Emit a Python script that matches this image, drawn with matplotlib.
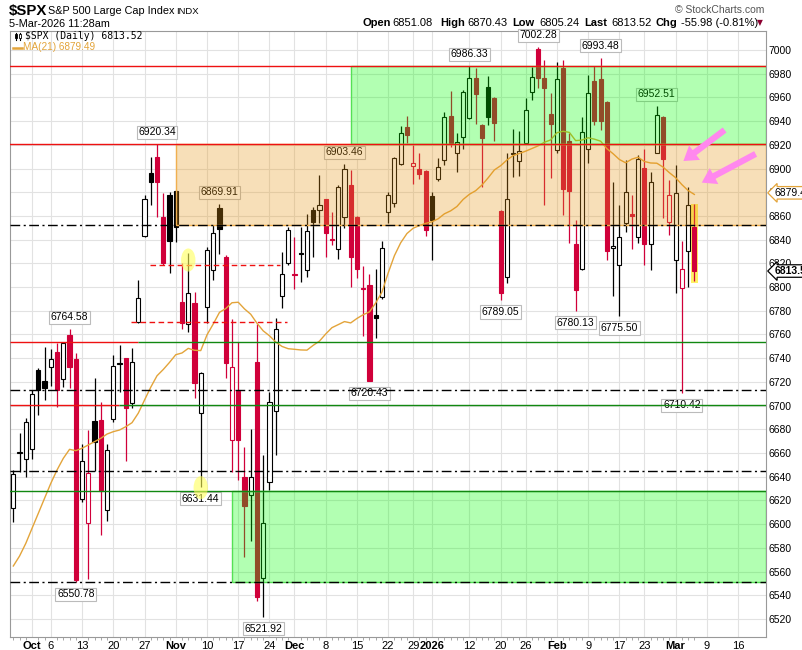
import numpy as np
import pandas as pd
import matplotlib
matplotlib.use("Agg")
import matplotlib.pyplot as plt
from matplotlib.patches import Ellipse, Rectangle, FancyArrowPatch

# trading calendar (market holidays removed)
holidays = ["2025-11-27", "2025-12-25", "2026-01-01", "2026-01-19", "2026-02-16"]
all_days = pd.bdate_range("2025-09-26", "2026-03-31")
all_days = all_days[~all_days.isin(pd.to_datetime(holidays))]
n_bars = 110
dates = all_days[:n_bars]

# daily OHLC
opens = [6613.3, 6659.6, 6654.7, 6663.1, 6730.0, 6720.8, 6732.3, 6745.2, 6722.2, 6759.6,
         6739.3, 6620.9, 6600.7, 6686.7, 6687.9, 6611.9, 6688.4, 6735.6, 6739.9, 6701.9,
         6770.3, 6843.4, 6896.5, 6910.0, 6858.8, 6877.7, 6881.0, 6787.1, 6768.9, 6786.3,
         6694.1, 6783.5, 6814.4, 6867.0, 6825.6, 6671.0, 6712.3, 6640.0, 6624.6, 6736.5,
         6554.3, 6635.3, 6695.5, 6792.5, 6820.6, 6810.7, 6829.0, 6814.4, 6865.0, 6865.0,
         6874.0, 6840.3, 6831.8, 6859.4, 6886.1, 6859.4, 6799.5, 6801.7, 6776.4, 6791.3,
         6863.6, 6870.7, 6903.8, 6935.3, 6902.1, 6899.3, 6898.0, 6877.1, 6890.9, 6907.2,
         6944.3, 6912.8, 6926.3, 6942.4, 6976.1, 6936.7, 6968.5, 6959.2, 6864.2, 6808.8,
         6913.5, 6906.4, 6921.8, 6964.3, 7000.6, 6976.7, 6945.7, 6915.6, 6984.5, 6923.2,
         6836.1, 6815.0, 6916.5, 6973.8, 6975.3, 6956.4, 6832.7, 6818.6, 6853.8, 6861.4,
         6841.9, 6900.2, 6836.3, 6913.4, 6943.2, 6855.2, 6822.8, 6798.9, 6830.7, 6851.08]
highs = [6645.7, 6676.6, 6689.8, 6713.2, 6731.4, 6749.2, 6747.5, 6753.1, 6754.0, 6764.58,
         6744.0, 6667.6, 6679.4, 6723.0, 6703.0, 6668.0, 6742.7, 6751.1, 6740.4, 6748.3,
         6806.0, 6877.7, 6910.0, 6920.34, 6879.0, 6880.0, 6882.0, 6820.0, 6828.5, 6795.6,
         6728.6, 6834.0, 6852.4, 6869.91, 6827.0, 6772.8, 6753.4, 6665.4, 6680.0, 6768.6,
         6658.3, 6711.8, 6773.6, 6829.9, 6851.0, 6842.0, 6851.0, 6861.6, 6867.8, 6894.5,
         6874.6, 6863.6, 6886.0, 6903.46, 6898.8, 6860.0, 6817.8, 6811.0, 6815.0, 6838.9,
         6880.5, 6909.5, 6935.9, 6944.3, 6919.9, 6912.8, 6899.0, 6880.0, 6908.6, 6948.0,
         6965.4, 6930.3, 6966.0, 6986.33, 6984.5, 6937.5, 6978.1, 6960.0, 6865.0, 6912.8,
         6933.1, 6931.7, 6959.2, 6985.9, 7002.28, 6991.6, 6963.4, 6990.2, 6991.6, 6930.3,
         6856.6, 6943.2, 6978.9, 6986.5, 6993.48, 6957.0, 6888.9, 6869.2, 6907.2, 6877.7,
         6911.4, 6916.2, 6897.4, 6952.51, 6944.0, 6890.3, 6903.0, 6838.9, 6884.1, 6870.43]
lows = [6602.1, 6644.3, 6639.5, 6654.7, 6692.1, 6704.7, 6716.5, 6698.5, 6716.0, 6714.6,
        6550.78, 6619.0, 6553.4, 6645.0, 6591.0, 6603.0, 6686.0, 6711.8, 6653.6, 6698.3,
        6770.0, 6842.5, 6869.2, 6858.8, 6818.6, 6812.2, 6838.0, 6764.6, 6762.4, 6706.1,
        6631.44, 6769.4, 6806.0, 6827.9, 6723.0, 6644.3, 6637.3, 6572.6, 6586.0, 6535.0,
        6521.92, 6628.8, 6658.3, 6782.1, 6818.6, 6798.1, 6804.6, 6808.8, 6825.6, 6853.8,
        6825.6, 6835.5, 6823.4, 6850.0, 6800.3, 6807.4, 6758.7, 6720.43, 6756.8, 6790.0,
        6854.3, 6867.3, 6903.0, 6921.3, 6887.0, 6891.2, 6843.0, 6822.9, 6889.8, 6903.0,
        6917.9, 6897.4, 6916.2, 6942.0, 6937.6, 6884.1, 6936.7, 6923.5, 6789.05, 6803.2,
        6892.6, 6893.7, 6921.0, 6957.8, 6967.7, 6869.2, 6891.7, 6912.8, 6860.8, 6837.5,
        6780.13, 6814.0, 6904.4, 6936.7, 6932.5, 6822.8, 6792.8, 6775.50, 6846.8, 6831.8,
        6836.9, 6818.6, 6814.4, 6912.8, 6858.0, 6843.9, 6795.3, 6710.42, 6800.3, 6805.24]
closes = [6642.0, 6660.5, 6686.4, 6709.5, 6713.2, 6714.6, 6739.3, 6713.2, 6752.5, 6732.8,
          6552.5, 6653.0, 6642.9, 6669.6, 6628.2, 6662.3, 6733.4, 6735.0, 6697.7, 6736.5,
          6790.5, 6874.3, 6888.9, 6888.6, 6820.6, 6838.9, 6851.0, 6770.0, 6794.7, 6718.8,
          6727.2, 6831.3, 6845.3, 6849.3, 6735.7, 6732.3, 6671.0, 6615.6, 6640.0, 6538.5,
          6601.3, 6703.3, 6764.4, 6810.7, 6847.9, 6810.2, 6827.6, 6847.6, 6855.2, 6869.0,
          6845.3, 6839.4, 6884.7, 6899.3, 6825.6, 6815.0, 6798.4, 6721.0, 6773.6, 6832.7,
          6877.7, 6908.6, 6930.3, 6928.3, 6905.0, 6895.1, 6848.0, 6856.6, 6901.0, 6943.2,
          6921.3, 6922.0, 6964.9, 6976.1, 6962.6, 6925.5, 6943.2, 6938.7, 6795.3, 6874.0,
          6912.0, 6914.8, 6949.4, 6976.9, 6976.2, 6967.7, 6937.3, 6975.3, 6882.5, 6881.0,
          6797.5, 6930.5, 6963.4, 6940.4, 6940.0, 6830.7, 6834.7, 6841.9, 6879.9, 6860.3,
          6907.8, 6836.3, 6888.4, 6945.2, 6907.8, 6877.7, 6879.6, 6815.0, 6869.5, 6813.52]

# MA(21) for the first bars (history before the window is not shown)
ma_early = [6564.7, 6573.1, 6583.8, 6596.5, 6609.1, 6621.8, 6634.4, 6645.7, 6655.5, 6663.1,
            6662.0, 6664.0, 6666.8, 6669.6, 6672.4, 6676.0, 6678.0, 6679.4, 6682.2, 6685.6]

# annotated extremes: (date, value, side)
extremes = [("2025-10-09", 6764.58, "up"), ("2025-10-10", 6550.78, "down"),
            ("2025-10-29", 6920.34, "up"), ("2025-11-07", 6631.44, "down"),
            ("2025-11-12", 6869.91, "up"), ("2025-11-21", 6521.92, "down"),
            ("2025-12-11", 6903.46, "up"), ("2025-12-17", 6720.43, "down"),
            ("2026-01-12", 6986.33, "up"), ("2026-01-20", 6789.05, "down"),
            ("2026-01-28", 7002.28, "up"), ("2026-02-05", 6780.13, "down"),
            ("2026-02-11", 6993.48, "up"), ("2026-02-17", 6775.50, "down"),
            ("2026-02-25", 6952.51, "up"), ("2026-03-03", 6710.42, "down")]

tick_dates = ["2025-10-01", "2025-10-06", "2025-10-13", "2025-10-20", "2025-10-27",
              "2025-11-03", "2025-11-10", "2025-11-17", "2025-11-24", "2025-12-01",
              "2025-12-08", "2025-12-15", "2025-12-22", "2025-12-29", "2026-01-02",
              "2026-01-12", "2026-01-20", "2026-01-26", "2026-02-02", "2026-02-09",
              "2026-02-17", "2026-02-23", "2026-03-02", "2026-03-09", "2026-03-16"]
tick_labels = ["Oct", "6", "13", "20", "27", "Nov", "10", "17", "24", "Dec", "8", "15",
               "22", "29", "2026", "12", "20", "26", "Feb", "9", "17", "23", "Mar", "9", "16"]
bold_labels = {"Oct", "Nov", "Dec", "2026", "Feb", "Mar"}

# drawn support / resistance levels
red_levels = [6986.33, 6920.34]
dashdot_levels = [6852.0, 6713.0, 6645.0, 6551.0]
green_level = 6628.0
split_levels = [(6754.0, "2025-10-24"), (6700.5, "2025-10-21")]
dashed_levels = [(6818.6, "2025-10-28", "2025-11-25"), (6770.5, "2025-10-23", "2025-11-26")]
orange_zone = ("2025-11-03", 6852.0, 6920.34)
green_zones = [("2025-12-12", 6920.34, 6986.33), ("2025-11-14", 6551.0, 6628.0)]

RED = "#D0003A"
MA_COL = "#E3A43A"
NARROW = ["Liberation Sans Narrow", "Liberation Sans", "DejaVu Sans"]
SANS = ["Liberation Sans", "DejaVu Sans"]


def xpos(d):
    return all_days.get_loc(pd.Timestamp(d))


W, H = 803, 650
fig = plt.figure(figsize=(W / 100, H / 100), dpi=100)
fig.patch.set_facecolor("white")
ax = fig.add_axes([10 / W, 13 / H, 756 / W, 606 / H])
ax.set_xlim(-0.53, 120.47)
ax.set_ylim(6504.8, 7016.0)

o = np.array(opens)
h = np.array(highs)
l = np.array(lows)
c = np.array(closes)
x = np.arange(n_bars)

prev = np.r_[c[0] - 1, c[:-1]]
cols = np.where(c >= prev, "black", RED)
hollow = c >= o
body_lo = np.minimum(o, c)
body_h = np.maximum(np.abs(c - o), 0.8)

ax.vlines(x, l, h, colors=cols, lw=0.9, zorder=2)
ax.bar(x, body_h, bottom=body_lo, width=0.66,
       color=np.where(hollow, "white", cols), edgecolor=cols, linewidth=0.8, zorder=3)

ma = pd.Series(c).rolling(21).mean().to_numpy()
ma[:20] = ma_early
ax.plot(x, ma, color=MA_COL, lw=1.0, zorder=4)

# extreme value labels
for d, v, side in extremes:
    off = 5 if side == "up" else -5
    ax.annotate(f"{v:.2f}", xy=(xpos(d), v), xytext=(0, off), textcoords="offset points",
                ha="center", va="bottom" if side == "up" else "top",
                fontsize=7.5, family=NARROW, zorder=4.2,
                bbox=dict(boxstyle="square,pad=0.15", fc="white", ec="#BBBBBB", lw=0.8))

# zones (translucent, drawn over the bars)
xr = ax.get_xlim()[1]
zd, z0, z1 = orange_zone
ax.add_patch(Rectangle((xpos(zd), z0), xr - xpos(zd), z1 - z0, fc=(0.9, 0.59, 0.08, 0.3),
                       ec="#F0B050", lw=1.0, zorder=5))
for zd, z0, z1 in green_zones:
    ax.add_patch(Rectangle((xpos(zd), z0), xr - xpos(zd), z1 - z0, fc=(0.0, 1.0, 0.0, 0.3),
                           ec="#55E055", lw=1.0, zorder=5))

# level lines
for lv in red_levels:
    ax.axhline(lv, color="#EE1111", lw=1.0, zorder=6)
for lv in dashdot_levels:
    ax.axhline(lv, color="black", lw=1.0, ls=(0, (7, 2.5, 1.5, 2.5)), zorder=6)
ax.axhline(green_level, color="#118811", lw=1.0, zorder=6)
x0 = ax.get_xlim()[0]
for lv, d in split_levels:
    xs = xpos(d) - 0.1
    ax.hlines(lv, x0, xs, color="#EE1111", lw=1.0, zorder=6)
    ax.hlines(lv, xs, xr, color="#118811", lw=1.0, zorder=6)
for lv, d0, d1 in dashed_levels:
    ax.hlines(lv, xpos(d0) - 0.1, xpos(d1) + 0.75, color="#EE1111", lw=1.0,
              ls=(0, (4, 2.5)), zorder=6)

# highlights
for d, v in [("2025-11-05", 6822.8), ("2025-11-07", 6630.8)]:
    ax.add_patch(Ellipse((xpos(d), v), 2.3, 19.5, fc=(1, 1, 0.35, 0.6), ec="none", zorder=7))
last = n_bars - 1
ax.add_patch(Rectangle((last - 0.6, l[last] - 2), 1.2, h[last] - l[last] + 2,
                       fc="#FFF04A", ec="none", alpha=0.85, zorder=1.5))

# pink arrows
for tail, tip in [((114.2, 6933.9), (106.9, 6904.9)), ((119.2, 6913.4), (109.8, 6887.0))]:
    ax.add_patch(FancyArrowPatch(tail, tip, arrowstyle="simple,head_length=10,head_width=13,tail_width=4.5",
                                 mutation_scale=1, fc="#FF88EE", ec="none", zorder=8))

# axes styling
ax.set_yticks(np.arange(6520, 7001, 20))
ax.yaxis.tick_right()
ax.tick_params(axis="y", length=0, pad=2, labelsize=7.5)
for t in ax.get_yticklabels():
    t.set_family(NARROW)
ax.set_xticks([xpos(d) for d in tick_dates])
ax.set_xticklabels(tick_labels)
ax.set_xticks(x, minor=True)
ax.tick_params(axis="x", which="major", length=0, pad=3, labelsize=8)
ax.tick_params(axis="x", which="minor", length=2, color="#999999")
for t in ax.get_xticklabels():
    t.set_family(NARROW)
    if t.get_text() in bold_labels:
        t.set_fontweight("bold")
ax.grid(True, color="#E2E2E2", lw=0.8, zorder=0)
ax.set_axisbelow(True)
for s in ax.spines.values():
    s.set_color("#999999")
    s.set_linewidth(0.8)

# right axis tags
ax.annotate("6879.49", xy=(1, 6879.49), xycoords=ax.get_yaxis_transform(), xytext=(6, 0),
            textcoords="offset points", ha="left", va="center", fontsize=7.5, family=NARROW,
            annotation_clip=False,
            bbox=dict(boxstyle="larrow,pad=0.12", fc="white", ec="#E3A43A", lw=0.9))
ax.annotate("6813.52", xy=(1, 6813.52), xycoords=ax.get_yaxis_transform(), xytext=(6, 0),
            textcoords="offset points", ha="left", va="center", fontsize=7.5, family=NARROW,
            fontweight="bold", annotation_clip=False,
            bbox=dict(boxstyle="larrow,pad=0.12", fc="white", ec="black", lw=0.9))

# in-chart legend
ax.text(15 / 756, 1 - 5 / 606, "\\$SPX (Daily) 6813.52", transform=ax.transAxes, ha="left",
        va="center", fontsize=7, family="DejaVu Sans Mono", zorder=9)
# tiny candle icon
ax.plot([6 / 756, 6 / 756], [1 - 1.5 / 606, 1 - 8.5 / 606], transform=ax.transAxes,
        color="black", lw=0.8, zorder=9, clip_on=False)
ax.add_patch(Rectangle((4.8 / 756, 1 - 7 / 606), 2.4 / 756, 4 / 606, transform=ax.transAxes,
                       fc="black", ec="black", lw=0.6, zorder=9))
ax.plot([10 / 756, 10 / 756], [1 - 1.5 / 606, 1 - 8.5 / 606], transform=ax.transAxes,
        color="black", lw=0.8, zorder=9, clip_on=False)
ax.add_patch(Rectangle((8.8 / 756, 1 - 6.5 / 606), 2.4 / 756, 4 / 606, transform=ax.transAxes,
                       fc="white", ec="black", lw=0.6, zorder=9))
ax.plot([3 / 756, 12 / 756], [1 - 16.5 / 606] * 2, transform=ax.transAxes,
        color=MA_COL, lw=1.8, zorder=9, clip_on=False)
ax.text(13.5 / 756, 1 - 16.5 / 606, "MA(21) 6879.49", transform=ax.transAxes, ha="left",
        va="center", fontsize=7.2, family=SANS, color=MA_COL, zorder=9)


# header
def ftxt(px, py, s, **kw):
    fig.text(px / W, 1 - py / H, s, va="center", **kw)


ftxt(9, 11, "\\$SPX", fontsize=10.8, fontweight="bold", family=SANS)
ftxt(48, 11, "S&P 500 Large Cap Index", fontsize=7.8, family=SANS)
ftxt(176, 11.5, "INDX", fontsize=6.8, family=SANS)
ftxt(9, 24, "5-Mar-2026 11:28am", fontsize=7.8, family=SANS)
ftxt(675, 10, "\u00a9 StockCharts.com", fontsize=7.5, family=SANS, color="#555555")
hdr = [(363, "Open", True), (392, "6851.08", False), (440, "High", True), (467, "6870.43", False),
       (512, "Low", True), (539, "6805.24", False), (584, "Last", True), (611, "6813.52", False),
       (656, "Chg", True), (681, "-55.98 (-0.81%)", False)]
for px, s, b in hdr:
    ftxt(px, 23, s, fontsize=8, family=SANS, fontweight="bold" if b else "normal")
ftxt(757, 23, "\u25bc", fontsize=5.5, family="DejaVu Sans", color="#8B0030")

fig.savefig("out.png", dpi=100, facecolor="white")
